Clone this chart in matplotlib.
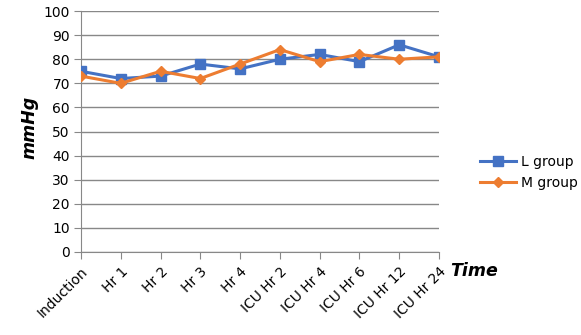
import matplotlib.pyplot as plt

# Donnees
categories = ["Induction", "Hr 1", "Hr 2", "Hr 3", "Hr 4",
              "ICU Hr 2", "ICU Hr 4", "ICU Hr 6", "ICU Hr 12", "ICU Hr 24"]
l_group = [75, 72, 73, 78, 76, 80, 82, 79, 86, 81]
m_group = [73, 70, 75, 72, 78, 84, 79, 82, 80, 81]
y_ticks = [0, 10, 20, 30, 40, 50, 60, 70, 80, 90, 100]

plt.rcParams['font.family'] = ['DejaVu Sans']

fig = plt.figure(figsize=(5.81, 3.35), dpi=100)
ax = fig.add_axes([0.1394, 0.2478, 0.6162, 0.7192])

x = list(range(len(categories)))
ax.plot(x, l_group, color="#4472C4", lw=2.2, marker="s", ms=6.5, label="L group", zorder=3)
ax.plot(x, m_group, color="#ED7D31", lw=2.2, marker="D", ms=5, label="M group", zorder=4)

ax.set_xlim(0, len(categories) - 1)
ax.set_ylim(0, 100)
ax.set_yticks(y_ticks)
ax.set_xticks(x)
ax.set_xticklabels(categories, rotation=45, ha="right", rotation_mode="anchor")
ax.tick_params(axis="y", length=5, color="#888888", labelsize=10, pad=3)
ax.tick_params(axis="x", length=5, color="#888888", labelsize=10, pad=4)

ax.grid(axis="y", color="#888888", lw=1)
ax.set_axisbelow(True)
for s in ["top", "right"]:
    ax.spines[s].set_visible(False)
ax.spines["left"].set_color("#888888")
ax.spines["bottom"].set_color("#888888")

fig.text(0.05, 0.62, "mmHg", rotation=90, fontsize=12.5, fontweight="bold",
         style="italic", ha="center", va="center")
fig.text(0.775, 0.19, "Time", fontsize=12.5, fontweight="bold", style="italic",
         ha="left", va="center")

ax.legend(loc="center left", bbox_to_anchor=(1.08, 0.33), frameon=False,
          fontsize=10, handlelength=2.6, labelspacing=0.5, handletextpad=0.35)

fig.savefig("out.png", dpi=100)
